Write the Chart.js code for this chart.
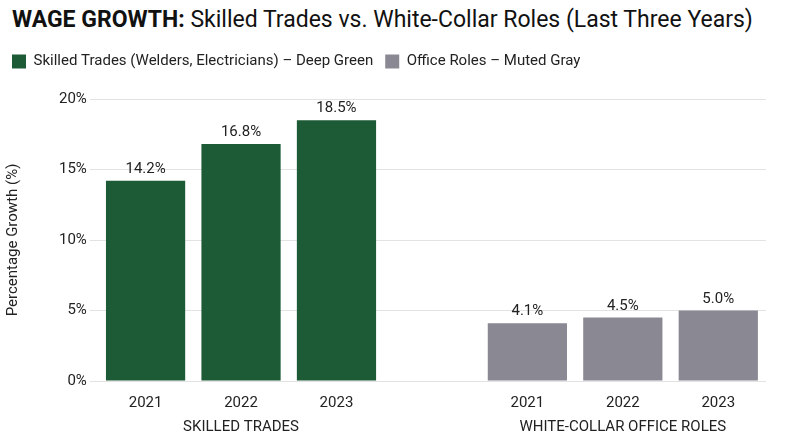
<!DOCTYPE html>
<html><head><meta charset="utf-8">
<script src="https://cdn.jsdelivr.net/npm/chart.js@4/dist/chart.umd.min.js"></script>
<style>
body{margin:0;background:#fff;font-family:Roboto,sans-serif;}
#t{position:absolute;left:12px;top:6px;font-size:23px;color:#111;white-space:nowrap;}
#w{position:absolute;left:0;top:40px;width:800px;height:407px;}
</style></head><body>
<div id="t"><b>WAGE GROWTH:</b> Skilled Trades vs. White-Collar Roles (Last Three Years)</div>
<div id="w"><canvas id="c"></canvas></div>
<script>
const years=['2021','2022','2023'];
const groups=['SKILLED TRADES','WHITE-COLLAR OFFICE ROLES'];
const trades=[14.2,16.8,18.5];
const office=[4.1,4.5,5.0];
const yTicks=[0,5,10,15,20];
const labels=[[years[0],''],[years[1],groups[0]],[years[2],''],['',''],[years[0],''],[years[1],groups[1]],[years[2],'']];
const tData=[...trades,null,null,null,null];
const oData=[null,null,null,null,...office];
const valPlugin={id:'vals',afterDatasetsDraw(ch){const ctx=ch.ctx;ctx.save();ctx.font='15px Roboto';ctx.fillStyle='#222';ctx.textAlign='center';ctx.textBaseline='bottom';
ch.data.datasets.forEach((d,i)=>{ch.getDatasetMeta(i).data.forEach((b,j)=>{if(d.data[j]!=null)ctx.fillText(d.data[j].toFixed(1)+'%',b.x,b.y-4);});});ctx.restore();}};
const legPad={id:'legPad',beforeInit(ch){const f=ch.legend.fit;ch.legend.fit=function(){f.bind(ch.legend)();this.height+=20;};}};
new Chart(document.getElementById('c'),{type:'bar',data:{labels,datasets:[
{label:'Skilled Trades (Welders, Electricians) – Deep Green',data:tData,backgroundColor:'#1d5a36'},
{label:'Office Roles – Muted Gray',data:oData,backgroundColor:'#8a8893'}]},
options:{responsive:true,maintainAspectRatio:false,animation:false,
datasets:{bar:{grouped:false,categoryPercentage:0.83,barPercentage:1}},
layout:{padding:{left:0,right:34,top:2,bottom:6}},
plugins:{legend:{align:'start',labels:{boxWidth:14,boxHeight:14,font:{size:15,family:'Roboto'},color:'#222',padding:12}},tooltip:{enabled:false}},
scales:{x:{grid:{display:false},border:{display:false},ticks:{padding:2,font:{size:15,family:'Roboto',lineHeight:1.6},color:'#222',autoSkip:false,maxRotation:0}},
y:{min:0,max:20,afterFit(a){a.width+=30;},afterBuildTicks(a){a.ticks=yTicks.map(v=>({value:v}));},grid:{color:'#e2e2e2'},border:{display:false},
ticks:{font:{size:15,family:'Roboto'},color:'#222',callback:v=>v+'%'},
title:{display:true,text:'Percentage Growth (%)',font:{size:15,family:'Roboto'},color:'#222'}}}},
plugins:[valPlugin,legPad]});
</script></body></html>
